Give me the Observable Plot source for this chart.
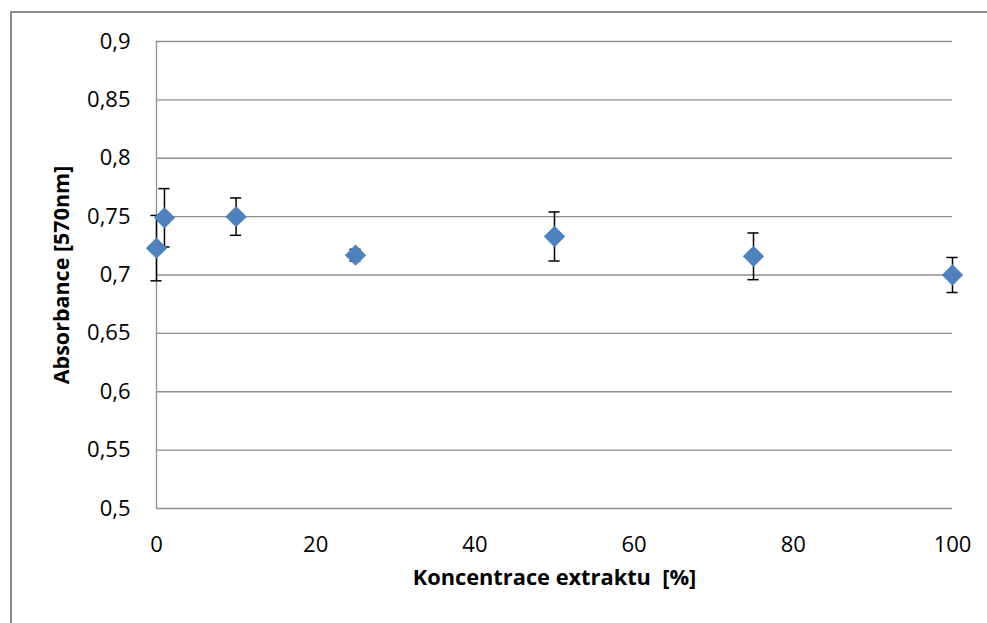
<!DOCTYPE html>
<html>
<head>
<meta charset="utf-8">
<script src="https://cdn.jsdelivr.net/npm/d3@7"></script>
<script src="https://cdn.jsdelivr.net/npm/@observablehq/plot@0.6"></script>
<style>
  html, body { margin: 0; padding: 0; background: #fff; }
  #wrap { position: relative; width: 987px; height: 623px; overflow: hidden; }
  #frame { position: absolute; left: 10px; top: 11px; width: 1200px; height: 800px;
           border-left: 2px solid #898989; border-top: 2px solid #898989; box-sizing: border-box; }
  #chart { position: absolute; left: 0; top: 0; }
</style>
</head>
<body>
<div id="wrap"><div id="frame"></div><div id="chart"></div></div>
<script>
const concentrations = [0, 1, 10, 25, 50, 75, 100];
const absorbance = [0.723, 0.749, 0.750, 0.717, 0.733, 0.716, 0.700];
const errors = [0.028, 0.025, 0.016, 0.005, 0.021, 0.020, 0.015];
const xTicks = [0, 20, 40, 60, 80, 100];
const yTicks = [0.5, 0.55, 0.6, 0.65, 0.7, 0.75, 0.8, 0.85, 0.9];
const xTitle = "Koncentrace extraktu\u00a0 [%]";
const yTitle = "Absorbance [570nm]";

const data = concentrations.map((c, i) => ({x: c, y: absorbance[i], e: errors[i]}));
const fmt = d => String(+d.toFixed(2)).replace(".", ",");
const font = "'Open Sans', sans-serif";

const chart = Plot.plot({
  width: 987,
  height: 623,
  marginLeft: 156,
  marginTop: 41,
  marginBottom: 115,
  marginRight: 35,
  style: {fontFamily: font, fontSize: "22px", color: "#000", background: "transparent"},
  x: {domain: [0, 100]},
  y: {domain: [0.5, 0.9]},
  marks: [
    Plot.ruleY(yTicks, {stroke: "#8f8f8f", strokeWidth: 1.3}),
    Plot.ruleX([0], {stroke: "#8f8f8f", strokeWidth: 1.3}),
    Plot.axisX(xTicks, {tickSize: 0, tickPadding: 28, label: null, tickFormat: d => String(d), fill: "#000"}),
    Plot.axisY(yTicks, {tickSize: 0, tickPadding: 26, label: null, tickFormat: fmt, fill: "#000"}),
    Plot.ruleX(data, {x: "x", y1: d => d.y - d.e, y2: d => d.y + d.e, stroke: "#000", strokeWidth: 1.5}),
    Plot.ruleY(data, {y: d => d.y - d.e, x1: d => d.x - 0.7, x2: d => d.x + 0.7, stroke: "#000", strokeWidth: 1.5}),
    Plot.ruleY(data, {y: d => d.y + d.e, x1: d => d.x - 0.7, x2: d => d.x + 0.7, stroke: "#000", strokeWidth: 1.5}),
    Plot.dot(data, {x: "x", y: "y", symbol: "diamond2", r: 9.6, fill: "#4f81bd", stroke: "none"}),
    Plot.text([xTitle], {frameAnchor: "bottom", dy: 76, text: d => d, fontWeight: "bold", fontSize: 21.8, fill: "#000"}),
    Plot.text([yTitle], {frameAnchor: "left", textAnchor: "middle", lineAnchor: "middle", dx: -94, rotate: -90, text: d => d, fontWeight: "bold", fontSize: 21.5, fill: "#000"})
  ]
});
document.getElementById("chart").appendChild(chart);
</script>
</body>
</html>
